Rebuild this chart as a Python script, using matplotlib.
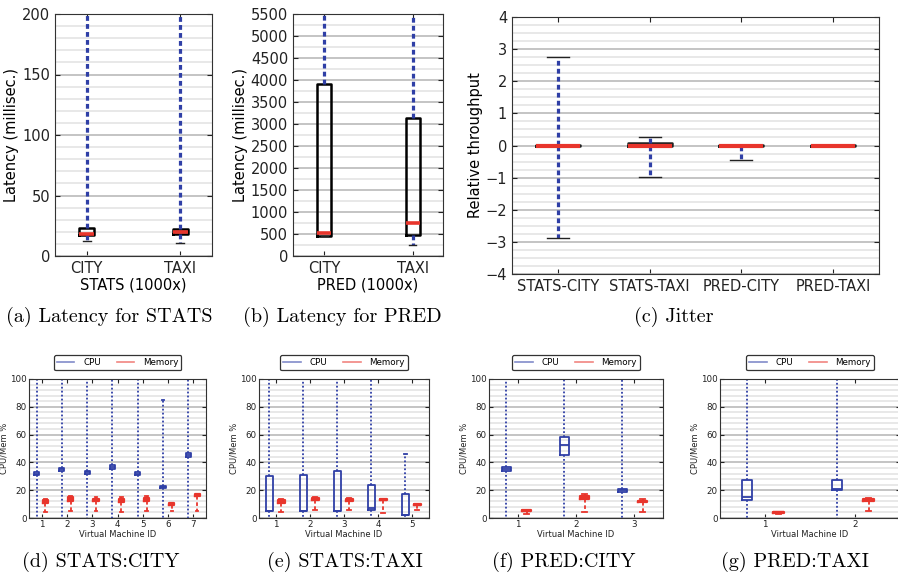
import matplotlib
matplotlib.use('Agg')
import matplotlib.pyplot as plt
from matplotlib.lines import Line2D
from matplotlib.ticker import MultipleLocator

# (a) latency for STATS: q1, median, q3, low / high whisker
lat_names = ['CITY', 'TAXI']
stats_q1 = [17, 18]
stats_med = [18, 20]
stats_q3 = [23, 22.5]
stats_lo = [12, 11]
stats_hi = [260, 260]

# (b) latency for PRED
pred_q1 = [460, 480]
pred_med = [530, 740]
pred_q3 = [3900, 3130]
pred_lo = [450, 240]
pred_hi = [6000, 6000]

# (c) jitter
jit_names = ['STATS-CITY', 'STATS-TAXI', 'PRED-CITY', 'PRED-TAXI']
jit_q1 = [-0.02, 0.0, -0.01, 0.0]
jit_med = [0.0, 0.0, 0.0, 0.0]
jit_q3 = [0.02, 0.07, 0.02, 0.03]
jit_lo = [-2.88, -0.99, -0.46, 0.0]
jit_hi = [2.74, 0.27, 0.02, 0.03]

# (d)-(g) CPU / memory per VM
vm_titles = ['(d) STATS:CITY', '(e) STATS:TAXI', '(f) PRED:CITY', '(g) PRED:TAXI']
cpu_q1 = [[31, 34, 32, 35, 31, 21.5, 44], [5, 5, 5, 6, 2], [33.5, 45, 19], [13, 20]]
cpu_med = [[32, 35, 33, 36.5, 32, 22, 45.5], [5, 5, 5, 7, 2], [35, 52.5, 20], [15, 21]]
cpu_q3 = [[33, 36, 34, 38, 33, 23, 47], [30, 31, 34, 24, 17], [37, 58, 21], [27, 27]]
cpu_lo = [[-1, -1, -1, -1, -1, -1, -1], [-1, -1, -1, -1, -1], [-1, -1, -1], [-1, -1]]
cpu_hi = [[105, 105, 105, 105, 105, 85, 105], [105, 105, 105, 105, 46], [105, 105, 105], [105, 105]]
mem_q1 = [[10.5, 12, 12, 11.5, 12, 9, 16], [11, 13, 12.5, 13, 9], [5, 14, 11.5], [3.5, 12.5]]
mem_med = [[12, 13.5, 13, 13, 13.5, 10, 16.5], [12, 14, 13, 13, 9], [5, 14.5, 12], [4, 13]]
mem_q3 = [[13, 15, 14, 14, 14.5, 10.5, 17.5], [13, 14.5, 14, 13.5, 10], [5.5, 15.5, 12.5], [4.5, 14]]
mem_lo = [[4, 5, 5, 4.5, 5, 5, 5], [4, 5.5, 5.5, 3.5, 5.5], [3, 4.5, 4], [3, 5]]
mem_hi = [[14, 16, 15, 15, 16, 11, 17.5], [14, 15, 14.5, 14, 10], [6, 17.5, 13.5], [4.5, 14.5]]

BLUE = '#2f3fa6'
RED = '#e8352c'
W, H = 898, 576


def mkstats(q1, med, q3, lo, hi):
    return [dict(q1=a, med=m, q3=b, whislo=l, whishi=h)
            for a, m, b, l, h in zip(q1, med, q3, lo, hi)]


def rect(x0, x1, y0, y1):
    return [x0 / W, 1 - y1 / H, (x1 - x0) / W, (y1 - y0) / H]


def style(ax, major, minor, fs):
    ax.yaxis.set_major_locator(MultipleLocator(major))
    ax.yaxis.set_minor_locator(MultipleLocator(minor))
    ax.grid(True, which='major', axis='y', color='#b4b4b4', lw=1.1)
    ax.grid(True, which='minor', axis='y', color='#e2e2e2', lw=1.1)
    ax.set_axisbelow(True)
    ax.tick_params(which='both', direction='in', top=True, right=True,
                   labelsize=fs, colors='#222222')
    ax.tick_params(which='minor', length=0)
    for s in ax.spines.values():
        s.set_color('#333333')


fig = plt.figure(figsize=(W / 100, H / 100), dpi=100)

top_box = dict(boxprops=dict(color='black', lw=1.8),
               medianprops=dict(color=RED, lw=2.6, solid_capstyle='butt'),
               whiskerprops=dict(color=BLUE, lw=2.3, linestyle=(0, (1.5, 1))),
               capprops=dict(color='#222222', lw=1))

# (a)
ax = fig.add_axes(rect(55, 212, 14, 256))
ax.bxp(mkstats(stats_q1, stats_med, stats_q3, stats_lo, stats_hi),
       positions=[1, 2], widths=0.16, showfliers=False, **top_box)
ax.set_xlim(0.66, 2.34)
ax.set_ylim(0, 200)
style(ax, 50, 10, 10.5)
ax.set_xticks([1, 2], lat_names)
ax.set_xlabel('STATS (1000x)', fontsize=10.5, labelpad=1)
ax.set_ylabel('Latency (millisec.)', fontsize=10.5, labelpad=2)

# (b)
ax = fig.add_axes(rect(293, 443, 14, 256))
ax.bxp(mkstats(pred_q1, pred_med, pred_q3, pred_lo, pred_hi),
       positions=[1, 2], widths=0.16, showfliers=False, **top_box)
ax.set_xlim(0.65, 2.34)
ax.set_ylim(0, 5500)
style(ax, 500, 250, 10.5)
ax.set_xticks([1, 2], lat_names)
ax.set_xlabel('PRED (1000x)', fontsize=10.5, labelpad=1)
ax.set_ylabel('Latency (millisec.)', fontsize=10.5, labelpad=2)

# (c)
ax = fig.add_axes(rect(512, 879, 17, 274))
ax.bxp(mkstats(jit_q1, jit_med, jit_q3, jit_lo, jit_hi),
       positions=[1, 2, 3, 4], widths=0.48, showfliers=False,
       boxprops=dict(color='#222222', lw=1.8),
       medianprops=dict(color=RED, lw=3, solid_capstyle='butt'),
       whiskerprops=dict(color=BLUE, lw=2.3, linestyle=(0, (1.5, 1))),
       capprops=dict(color='#222222', lw=1))
ax.set_xlim(0.5, 4.5)
ax.set_ylim(-4, 4)
style(ax, 1, 0.25, 10.5)
ax.set_xticks([1, 2, 3, 4], jit_names)
ax.set_ylabel('Relative throughput', fontsize=10.5, labelpad=2)

fig.text(109 / W, 1 - 317 / H, '(a) Latency for STATS', family='cmr10',
         fontsize=14.5, ha='center', va='center')
fig.text(342 / W, 1 - 317 / H, '(b) Latency for PRED', family='cmr10',
         fontsize=14.5, ha='center', va='center')
fig.text(674 / W, 1 - 317 / H, '(c) Jitter', family='cmr10',
         fontsize=14.5, ha='center', va='center')

# bottom row
bottom_rects = [(29, 206), (259, 429), (489, 663), (720, 900)]
bottom_w = [0.2, 0.2, 0.16, 0.12]
caption_x = [101, 345, 564, 795]
for k in range(4):
    n = len(cpu_med[k])
    pos = list(range(1, n + 1))
    ax = fig.add_axes(rect(bottom_rects[k][0], bottom_rects[k][1], 379, 518))
    ax.bxp(mkstats(cpu_q1[k], cpu_med[k], cpu_q3[k], cpu_lo[k], cpu_hi[k]),
           positions=[p - 0.2 for p in pos], widths=bottom_w[k],
           showfliers=False, manage_ticks=False,
           boxprops=dict(color=BLUE, lw=1.3),
           medianprops=dict(color=BLUE, lw=1.3),
           whiskerprops=dict(color=BLUE, lw=1.3, linestyle=(0, (1, 1.2))),
           capprops=dict(color=BLUE, lw=1.3))
    ax.bxp(mkstats(mem_q1[k], mem_med[k], mem_q3[k], mem_lo[k], mem_hi[k]),
           positions=[p + 0.15 for p in pos], widths=bottom_w[k],
           showfliers=False, manage_ticks=False,
           boxprops=dict(color=RED, lw=1.6),
           medianprops=dict(color=RED, lw=1.6),
           whiskerprops=dict(color=RED, lw=1.3, linestyle=(0, (2, 1.5))),
           capprops=dict(color=RED, lw=1.3))
    ax.set_xlim(0.5, n + 0.5)
    ax.set_ylim(0, 100)
    style(ax, 20, 4, 6.3)
    ax.set_xticks(pos, [str(p) for p in pos])
    ax.tick_params(which='major', length=3, pad=1.5)
    ax.set_xlabel('Virtual Machine ID', fontsize=6, labelpad=1, color='#222222')
    ax.set_ylabel('CPU/Mem %', fontsize=6, labelpad=1, color='#222222')
    handles = [Line2D([], [], color=BLUE, alpha=0.6, lw=1.2),
               Line2D([], [], color=RED, alpha=0.6, lw=1.2)]
    leg = ax.legend(handles, ['CPU', 'Memory'], loc='lower center',
                    bbox_to_anchor=(0.5, 1.03), ncol=2, fontsize=6.3,
                    frameon=True, fancybox=True, edgecolor='black',
                    handlelength=2.0, columnspacing=1.8, borderpad=0.35,
                    handletextpad=1.0)
    leg.get_frame().set_linewidth(0.9)
    fig.text(caption_x[k] / W, 1 - 562 / H, vm_titles[k], family='cmr10',
             fontsize=14.5, ha='center', va='center')

fig.savefig('out.png', dpi=100)
